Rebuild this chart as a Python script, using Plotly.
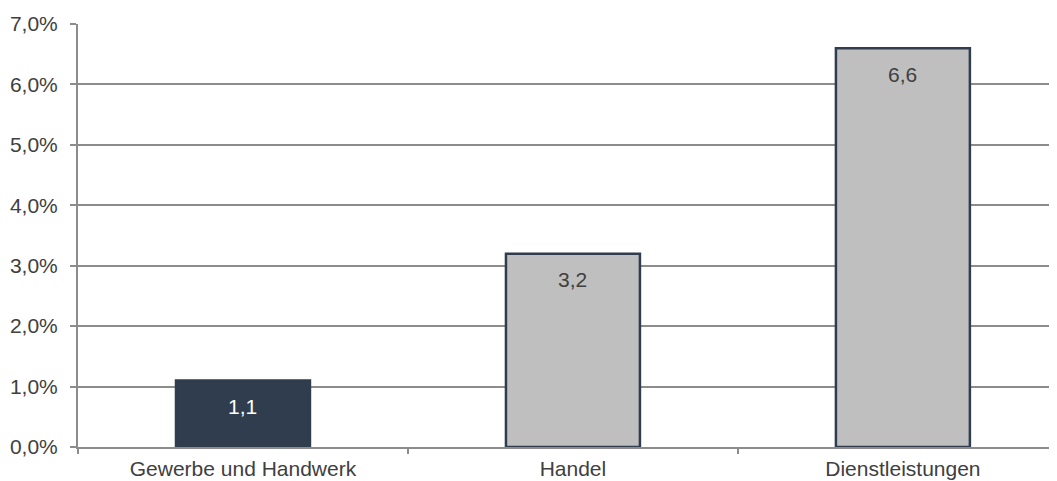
import plotly.graph_objects as go

categories = ["Gewerbe und Handwerk", "Handel", "Dienstleistungen"]
values = [1.1, 3.2, 6.6]
y_ticks = [0, 1, 2, 3, 4, 5, 6, 7]
y_tick_labels = [f"{t:.1f}".replace(".", ",") + "%" for t in y_ticks]

fill_colors = ["#2f3d4f", "#bfbfbf", "#bfbfbf"]
label_colors = ["#ffffff", "#404040", "#404040"]
FONT = "Liberation Sans, Arial, sans-serif"
FS = 21
GRID = "#8c8c8c"

fig = go.Figure()
fig.add_trace(go.Bar(
    x=categories, y=values, width=0.406,
    marker=dict(color=fill_colors, line=dict(color="#2f3d4f", width=2.5)),
    hoverinfo="skip",
))

for c, v, col in zip(categories, values, label_colors):
    fig.add_annotation(x=c, y=v, xref="x", yref="y",
                       text=f"{v:.1f}".replace(".", ","),
                       showarrow=False, yshift=-26,
                       font=dict(family=FONT, size=FS, color=col))

# page body has an 8px default margin, so the figure is offset by 8px
fig.update_layout(
    width=1049, height=473,
    margin=dict(l=70, r=0, t=16, b=34),
    plot_bgcolor="white", paper_bgcolor="white",
    separators=",.",
    showlegend=False,
    font=dict(family=FONT, size=FS, color="#404040"),
)
fig.update_xaxes(
    range=[-0.5, 2.467], tickson="boundaries", automargin=False,
    ticks="outside", ticklen=5, tickcolor=GRID, tickwidth=1.5,
    showline=True, linecolor=GRID, linewidth=2,
    showgrid=False, ticklabelstandoff=2,
    tickfont=dict(family=FONT, size=FS, color="#404040"),
)
fig.update_yaxes(
    range=[0, 7], tickvals=y_ticks, ticktext=y_tick_labels, automargin=False,
    ticks="outside", ticklen=6, tickcolor=GRID, tickwidth=1.5,
    showline=True, linecolor=GRID, linewidth=2,
    showgrid=True, gridcolor=GRID, gridwidth=1.5,
    zeroline=False, ticklabelstandoff=8,
    tickfont=dict(family=FONT, size=FS, color="#404040"),
)

fig.write_html("out.html")
